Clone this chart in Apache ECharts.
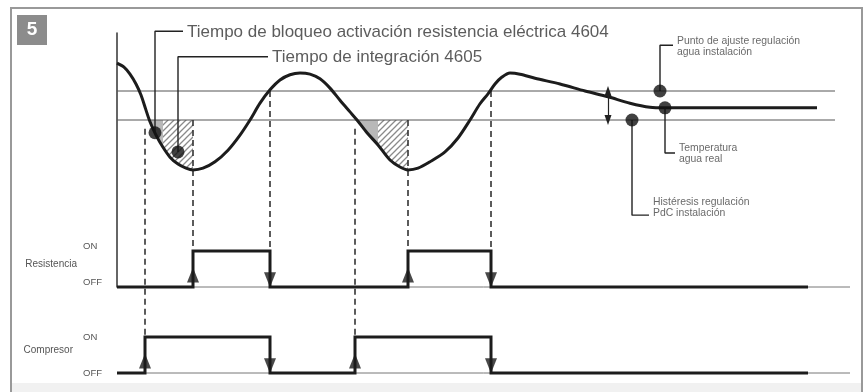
<!DOCTYPE html>
<html lang="es">
<head>
<meta charset="UTF-8">
<title>Resistencia / Compresor</title>
<script src="https://cdn.jsdelivr.net/npm/echarts@6/dist/echarts.min.js"></script>
<style>
  html, body { margin: 0; padding: 0; background: #fff; }
  #chart { width: 865px; height: 392px; }
</style>
</head>
<body>
<div id="chart"></div>
<script>
// temperatura agua real: tiempo (t) y temperatura (°C)
const curveT = [0,7,13,19,24,29,33,39,46,53,61,69,76,86,98,111,123,133,143,153,163,173,183,193,203,213,223,233,240,250,261,273,283,291,301,313,328,341,353,363,371,378,385,393,403,418,443,468,491,513,533,548,583,643,700];
const curveV = [49.8,49.1,47.9,46.2,44.3,41.7,39.7,37.4,35.3,33.6,32.4,31.7,31.4,31.7,32.8,34.8,37.4,40.0,42.9,45.2,46.9,47.8,48.1,47.9,47.1,45.5,43.4,41.4,40.0,37.8,35.7,33.1,31.9,31.4,31.7,32.8,34.5,36.9,40.0,42.8,44.5,46.2,47.4,48.1,47.9,47.2,46.2,45.0,44.0,42.9,42.2,42.1,42.1,42.1,42.1];

// punto de ajuste y histéresis
const setpoint = 45;
const lowLimit = 40;
const refEnd = 718;

// zonas sombreadas (gris = bloqueo, rayado = integración)
const grayZones = [
  [[32,40],[39,37.4],[46,35.3]],
  [[240,40],[250,37.8],[261,35.7]]
];
const hatchZones = [
  [[46,35.3],[53,33.6],[61,32.4],[69,31.7],[76,31.4]],
  [[261,35.7],[273,33.1],[283,31.9],[291,31.4]]
];

// señales ON/OFF: instantes de cambio
const resistEdges = [76, 153, 291, 374];
const compEdges = [28, 153, 238, 374];
const signalEnd = 691;
const axisEnd = 733;

// líneas discontinuas verticales
const guideX = [28, 76, 153, 238, 291, 374];
const guideTop = [38.5, 40, 45, 38.5, 40, 45];
const guideBottom = [2.6, 17.4, 17.4, 2.6, 17.4, 17.4];

// puntos de las llamadas
const dotX = [38, 61, 543, 548, 515];
const dotV = [37.8, 34.5, 45, 42.1, 40];
const leaders = [
  [[38,37.8],[38,55.3],[66,55.3]],
  [[61,34.5],[61,50.9],[151,50.9]],
  [[543,45],[543,52.9],[556,52.9]],
  [[548,42.1],[548,34.3],[558,34.3]],
  [[515,40],[515,23.6],[532,23.6]]
];
const calloutText = [
  'Tiempo de bloqueo activación resistencia eléctrica 4604',
  'Tiempo de integración 4605',
  'Punto de ajuste regulación\nagua instalación',
  'Temperatura\nagua real',
  'Histéresis regulación\nPdC instalación'
];
const hystX = 491;

function hatch() {
  const c = document.createElement('canvas');
  c.width = 6; c.height = 6;
  const g = c.getContext('2d');
  g.strokeStyle = '#8a8a8a';
  g.lineWidth = 1.3;
  g.beginPath();
  g.moveTo(0, 6); g.lineTo(6, 0);
  g.moveTo(-1, 1); g.lineTo(1, -1);
  g.moveTo(5, 7); g.lineTo(7, 5);
  g.stroke();
  return c;
}

function steps(edges) {
  const pts = [[0, 0]];
  let s = 0;
  edges.forEach(t => { pts.push([t, s]); s = 1 - s; pts.push([t, s]); });
  pts.push([signalEnd, s]);
  return pts;
}

function arrows(edges, up) {
  return edges.filter((t, i) => (i % 2 === 0) === up).map(t => [t, up ? 0.33 : 0.2]);
}

const ink = '#1c1c1c';
const font = 'Liberation Sans, Arial, sans-serif';
const hatchImg = hatch();

const series = [];

grayZones.forEach(z => series.push({
  type: 'line', xAxisIndex: 0, yAxisIndex: 0, data: z, showSymbol: false, silent: true, z: 1,
  lineStyle: { width: 0 }, areaStyle: { color: '#b8b8b8', opacity: 1, origin: lowLimit }
}));
hatchZones.forEach(z => series.push({
  type: 'line', xAxisIndex: 0, yAxisIndex: 0, data: z, showSymbol: false, silent: true, z: 1,
  lineStyle: { width: 0 }, areaStyle: { color: { image: hatchImg, repeat: 'repeat' }, opacity: 1, origin: lowLimit }
}));
[setpoint, lowLimit].forEach(v => series.push({
  type: 'line', xAxisIndex: 0, yAxisIndex: 0, data: [[0, v], [refEnd, v]], showSymbol: false, silent: true, z: 2,
  lineStyle: { color: '#555', width: 1 }
}));
guideX.forEach((x, i) => series.push({
  type: 'line', xAxisIndex: 0, yAxisIndex: 0, data: [[x, guideTop[i]], [x, guideBottom[i]]], showSymbol: false,
  silent: true, clip: false, z: 2, lineStyle: { color: '#333', width: 1.6, type: [6, 4] }
}));
series.push({
  type: 'line', xAxisIndex: 0, yAxisIndex: 0, data: curveT.map((t, i) => [t, curveV[i]]),
  showSymbol: false, smooth: 0.3, silent: true, z: 3, lineStyle: { color: ink, width: 3 }
});
leaders.forEach(l => series.push({
  type: 'line', xAxisIndex: 0, yAxisIndex: 0, data: l, showSymbol: false, silent: true, clip: false, z: 4,
  lineStyle: { color: '#222', width: 1.4 }
}));
series.push({
  type: 'scatter', xAxisIndex: 0, yAxisIndex: 0, data: dotX.map((x, i) => [x, dotV[i]]),
  symbolSize: 13, itemStyle: { color: '#111' }, silent: true, clip: false, z: 5
});
series.push({
  type: 'scatter', xAxisIndex: 0, yAxisIndex: 0, symbolSize: 0, silent: true, clip: false, z: 5,
  data: leaders.map((l, i) => {
    const big = i < 2;
    return {
      value: l[l.length - 1],
      label: {
        show: true, position: 'right', distance: 4, formatter: calloutText[i],
        fontFamily: font, color: big ? '#333' : '#444', fontSize: big ? 17 : 10.4,
        lineHeight: big ? 20 : 11, offset: i === 4 ? [0, -7] : [0, 1]
      }
    };
  })
});
series.push({
  type: 'line', xAxisIndex: 0, yAxisIndex: 0, data: [], silent: true,
  markLine: {
    silent: true, symbol: ['triangle', 'triangle'], symbolSize: [7, 10], label: { show: false },
    lineStyle: { color: '#222', width: 1.2, type: 'solid' },
    data: [[{ coord: [hystX, setpoint] }, { coord: [hystX, lowLimit] }]]
  }
});

[[1, resistEdges], [2, compEdges]].forEach(([g, edges]) => {
  series.push({
    type: 'line', xAxisIndex: g, yAxisIndex: g, data: [[0, 0], [axisEnd, 0]], showSymbol: false, silent: true,
    clip: false, lineStyle: { color: '#777', width: 1 }
  });
  series.push({
    type: 'line', xAxisIndex: g, yAxisIndex: g, data: steps(edges), showSymbol: false, silent: true,
    clip: false, z: 3, lineStyle: { color: ink, width: 3, join: 'miter' }
  });
  series.push({
    type: 'scatter', xAxisIndex: g, yAxisIndex: g, data: arrows(edges, true), symbol: 'triangle',
    symbolSize: [12, 15], itemStyle: { color: ink }, silent: true, clip: false, z: 4
  });
  series.push({
    type: 'scatter', xAxisIndex: g, yAxisIndex: g, data: arrows(edges, false), symbol: 'triangle',
    symbolRotate: 180, symbolSize: [12, 15], itemStyle: { color: ink }, silent: true, clip: false, z: 4
  });
});

const hideX = i => ({ gridIndex: i, type: 'value', min: 0, max: axisEnd, show: false });
const levelAxis = (i, name, gap, va) => ({
  gridIndex: i, type: 'value', min: 0, max: 1, interval: 1,
  axisLine: { show: false }, axisTick: { show: false }, splitLine: { show: false },
  axisLabel: { formatter: v => (v === 1 ? 'ON' : 'OFF'), align: 'left', margin: 34, fontSize: 9.5, color: '#555', fontFamily: font, verticalAlign: va },
  name: name, nameLocation: 'middle', nameRotate: 0, nameGap: gap,
  nameTextStyle: { align: 'right', verticalAlign: 'bottom', fontSize: 10, color: '#555', fontFamily: font }
});

const chart = echarts.init(document.getElementById('chart'));
chart.setOption({
  animation: false,
  backgroundColor: '#fff',
  grid: [
    { left: 117, width: 733, top: 33, height: 254 },
    { left: 117, width: 733, top: 251, height: 36 },
    { left: 117, width: 733, top: 337, height: 36 }
  ],
  xAxis: [hideX(0), hideX(1), hideX(2)],
  yAxis: [
    { gridIndex: 0, type: 'value', min: 11.21, max: 55, axisLine: { show: true, lineStyle: { color: '#333', width: 1.5 } },
      axisTick: { show: false }, axisLabel: { show: false }, splitLine: { show: false } },
    levelAxis(1, 'Resistencia', 40, 'bottom'),
    levelAxis(2, 'Compresor', 44, 'middle')
  ],
  graphic: [
    { type: 'rect', silent: true, z: -1, shape: { x: 12, y: 383, width: 849, height: 12 }, style: { fill: '#f1f1f1' } },
    { type: 'rect', silent: true, shape: { x: 11, y: 8, width: 851, height: 392 }, style: { fill: 'none', stroke: '#999', lineWidth: 2 } },
    { type: 'rect', silent: true, shape: { x: 17, y: 15, width: 30, height: 30 }, style: { fill: '#8c8c8c' } },
    { type: 'text', silent: true, x: 32, y: 30, style: { text: '5', fill: '#fff', font: 'bold 19px ' + font, align: 'center', verticalAlign: 'middle' } }
  ],
  series: series
});
</script>
</body>
</html>
